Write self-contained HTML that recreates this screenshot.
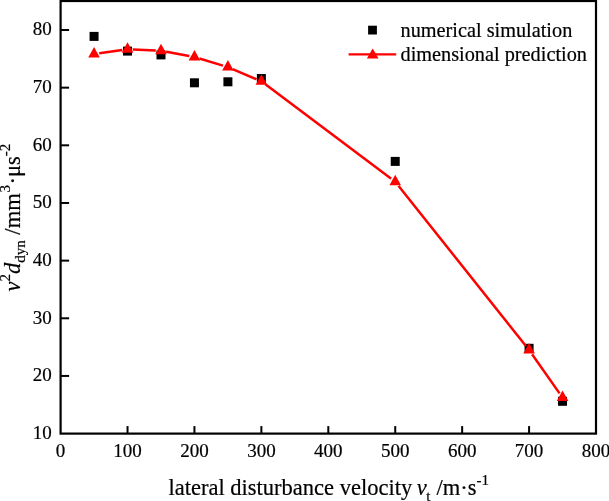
<!DOCTYPE html>
<html><head><meta charset="utf-8"><style>
html,body{margin:0;padding:0;background:#fff;}
svg{display:block;}
text{font-family:"Liberation Serif",serif;fill:#000;stroke:#000;stroke-width:0.2px;filter:grayscale(1);}
</style></head><body>
<svg width="609" height="501" viewBox="0 0 609 501">
<defs><mask id="m" maskUnits="userSpaceOnUse" x="0" y="0" width="609" height="501">
<rect x="0" y="0" width="609" height="501" fill="#fff"/>
<circle cx="94.06" cy="54.00" r="5.3" fill="#000"/>
<circle cx="127.53" cy="49.20" r="5.3" fill="#000"/>
<circle cx="160.99" cy="50.80" r="5.3" fill="#000"/>
<circle cx="194.45" cy="57.00" r="5.3" fill="#000"/>
<circle cx="227.91" cy="67.10" r="5.3" fill="#000"/>
<circle cx="261.38" cy="81.30" r="5.3" fill="#000"/>
<circle cx="395.23" cy="181.70" r="5.3" fill="#000"/>
<circle cx="529.08" cy="350.00" r="5.3" fill="#000"/>
<circle cx="562.54" cy="397.60" r="5.3" fill="#000"/>
</mask></defs>
<g>
<rect x="89.56" y="31.90" width="9.0" height="9.0" fill="#000"/><rect x="123.03" y="46.60" width="9.0" height="9.0" fill="#000"/><rect x="156.49" y="50.40" width="9.0" height="9.0" fill="#000"/><rect x="189.95" y="78.30" width="9.0" height="9.0" fill="#000"/><rect x="223.41" y="77.30" width="9.0" height="9.0" fill="#000"/><rect x="256.88" y="74.00" width="9.0" height="9.0" fill="#000"/><rect x="390.73" y="156.90" width="9.0" height="9.0" fill="#000"/><rect x="524.58" y="343.80" width="9.0" height="9.0" fill="#000"/><rect x="558.04" y="396.80" width="9.0" height="9.0" fill="#000"/>
</g>
<polyline points="94.06,54.00 127.53,49.20 160.99,50.80 194.45,57.00 227.91,67.10 261.38,81.30 395.23,181.70 529.08,350.00 562.54,397.60" fill="none" stroke="#ff0000" stroke-width="2.5" stroke-linejoin="round" mask="url(#m)"/>
<g>
<polygon points="94.06,47.00 88.26,57.50 99.86,57.50" fill="#ff0000"/><polygon points="127.53,42.20 121.73,52.70 133.33,52.70" fill="#ff0000"/><polygon points="160.99,43.80 155.19,54.30 166.79,54.30" fill="#ff0000"/><polygon points="194.45,50.00 188.65,60.50 200.25,60.50" fill="#ff0000"/><polygon points="227.91,60.10 222.11,70.60 233.71,70.60" fill="#ff0000"/><polygon points="261.38,74.30 255.57,84.80 267.18,84.80" fill="#ff0000"/><polygon points="395.23,174.70 389.43,185.20 401.03,185.20" fill="#ff0000"/><polygon points="529.08,343.00 523.28,353.50 534.88,353.50" fill="#ff0000"/><polygon points="562.54,390.60 556.74,401.10 568.34,401.10" fill="#ff0000"/>
</g>
<g stroke="#000" stroke-width="2" fill="none">
<rect x="60.60" y="1" width="535.40" height="432.60" stroke-width="2.2"/>
<line x1="127.53" y1="433.60" x2="127.53" y2="426.10"/><line x1="194.45" y1="433.60" x2="194.45" y2="426.10"/><line x1="261.38" y1="433.60" x2="261.38" y2="426.10"/><line x1="328.30" y1="433.60" x2="328.30" y2="426.10"/><line x1="395.23" y1="433.60" x2="395.23" y2="426.10"/><line x1="462.15" y1="433.60" x2="462.15" y2="426.10"/><line x1="529.08" y1="433.60" x2="529.08" y2="426.10"/><line x1="60.60" y1="375.94" x2="69.10" y2="375.94"/><line x1="60.60" y1="318.29" x2="69.10" y2="318.29"/><line x1="60.60" y1="260.63" x2="69.10" y2="260.63"/><line x1="60.60" y1="202.97" x2="69.10" y2="202.97"/><line x1="60.60" y1="145.31" x2="69.10" y2="145.31"/><line x1="60.60" y1="87.66" x2="69.10" y2="87.66"/><line x1="60.60" y1="30.00" x2="69.10" y2="30.00"/>
</g>
<g font-size="19.0">
<text x="60.60" y="457.2" text-anchor="middle">0</text><text x="127.53" y="457.2" text-anchor="middle">100</text><text x="194.45" y="457.2" text-anchor="middle">200</text><text x="261.38" y="457.2" text-anchor="middle">300</text><text x="328.30" y="457.2" text-anchor="middle">400</text><text x="395.23" y="457.2" text-anchor="middle">500</text><text x="462.15" y="457.2" text-anchor="middle">600</text><text x="529.08" y="457.2" text-anchor="middle">700</text><text x="596.00" y="457.2" text-anchor="middle">800</text><text x="51.8" y="438.90" text-anchor="end">10</text><text x="51.8" y="381.24" text-anchor="end">20</text><text x="51.8" y="323.59" text-anchor="end">30</text><text x="51.8" y="265.93" text-anchor="end">40</text><text x="51.8" y="208.27" text-anchor="end">50</text><text x="51.8" y="150.61" text-anchor="end">60</text><text x="51.8" y="92.96" text-anchor="end">70</text><text x="51.8" y="35.30" text-anchor="end">80</text>
</g>
<!-- legend -->
<rect x="368.1" y="25.7" width="8.8" height="8.8" fill="#000"/>
<line x1="348.6" y1="54.4" x2="396.2" y2="54.4" stroke="#ff0000" stroke-width="2.4"/>
<polygon points="372.7,48.6 366.9,58.6 378.5,58.6" fill="#ff0000"/>
<g font-size="20.3">
<text x="400.5" y="37.0">numerical simulation</text>
<text x="400.5" y="60.9">dimensional prediction</text>
</g>
<!-- axis titles -->
<text x="168.5" y="495.1" font-size="22.5">lateral disturbance velocity <tspan font-style="italic" dx="-1">v</tspan><tspan font-size="15" dx="-0.6" dy="5.5">t</tspan><tspan dx="0.6" dy="-5.5"> /m·s</tspan><tspan font-size="15" dy="-10">-1</tspan></text>
<g transform="translate(19.8,291.5) rotate(-90)">
<text x="0" y="0" font-size="22.5"><tspan font-style="italic">v</tspan><tspan font-size="15" dy="-10">2</tspan><tspan font-style="italic" dy="10">d</tspan><tspan font-size="15" dy="5.5">dyn</tspan><tspan dy="-5.5"> /mm</tspan><tspan font-size="15" dx="0.8" dy="-10">3</tspan><tspan dx="0.6" dy="10">·μs</tspan><tspan font-size="15" dy="-10">-2</tspan></text>
</g>
</svg>
</body></html>
